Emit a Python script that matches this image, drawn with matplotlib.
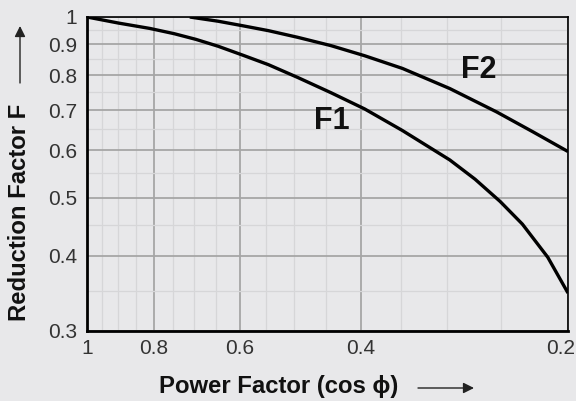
import matplotlib
matplotlib.use("Agg")
import matplotlib.pyplot as plt
from matplotlib.ticker import FixedLocator, NullFormatter
from matplotlib.patches import FancyArrowPatch
from matplotlib.transforms import ScaledTranslation

plt.rcParams['font.family'] = ['Liberation Sans', 'DejaVu Sans']

# Data
f1_cos = [1.0, 0.90, 0.81, 0.747, 0.695, 0.645, 0.594, 0.545, 0.494, 0.442, 0.395, 0.348,
          0.297, 0.273, 0.251, 0.233, 0.214, 0.2]
f1_val = [1.0, 0.977, 0.957, 0.938, 0.918, 0.894, 0.864, 0.833, 0.793, 0.748, 0.703, 0.647,
          0.578, 0.537, 0.493, 0.452, 0.398, 0.347]
f2_cos = [0.709, 0.645, 0.594, 0.545, 0.494, 0.442, 0.395, 0.348, 0.297, 0.254, 0.225, 0.2]
f2_val = [1.0, 0.984, 0.967, 0.949, 0.925, 0.896, 0.862, 0.821, 0.760, 0.695, 0.644, 0.597]

x_major = [1, 0.8, 0.6, 0.4, 0.2]
x_labels = ['1', '0.8', '0.6', '0.4', '0.2']
x_minor = [0.95, 0.9, 0.85, 0.75, 0.7, 0.65, 0.55, 0.5, 0.45, 0.35, 0.3, 0.25]
y_major = [0.3, 0.4, 0.5, 0.6, 0.7, 0.8, 0.9, 1.0]
y_labels = ['0.3', '0.4', '0.5', '0.6', '0.7', '0.8', '0.9', '1']
y_minor = [0.35, 0.45, 0.55, 0.65, 0.75, 0.85, 0.95]

bg = '#e8e8ea'
W, H = 576, 401
fig = plt.figure(figsize=(W / 100, H / 100), dpi=100, facecolor=bg)
ax = fig.add_axes([87 / W, 1 - 331 / H, (568 - 87) / W, (331 - 17) / H])
ax.set_facecolor(bg)
ax.set_xscale('log')
ax.set_yscale('log')
ax.set_xlim(1, 0.2)
ax.set_ylim(0.3, 1)

ax.xaxis.set_major_locator(FixedLocator(x_major))
ax.xaxis.set_minor_locator(FixedLocator(x_minor))
ax.yaxis.set_major_locator(FixedLocator(y_major))
ax.yaxis.set_minor_locator(FixedLocator(y_minor))
ax.set_xticklabels(x_labels)
ax.set_yticklabels(y_labels)
ax.xaxis.set_minor_formatter(NullFormatter())
ax.yaxis.set_minor_formatter(NullFormatter())

ax.grid(which='major', color='#a6a6a6', lw=1.3)
ax.grid(which='minor', color='#d6d6d8', lw=0.9)
ax.set_axisbelow(True)
ax.tick_params(which='both', length=0)
ax.tick_params(axis='y', pad=7, labelsize=15, labelcolor='#333333')
ax.tick_params(axis='x', pad=6, labelsize=15, labelcolor='#333333')

# keep the last x tick label inside the figure
last = ax.get_xticklabels()[-1]
last.set_transform(last.get_transform() + ScaledTranslation(-7 / 100, 0, fig.dpi_scale_trans))

for s in ['left', 'bottom']:
    ax.spines[s].set_linewidth(2.0)
for s in ['top', 'right']:
    ax.spines[s].set_linewidth(1.2)
for s in ax.spines.values():
    s.set_color('black')

ax.plot(f1_cos, f1_val, color='black', lw=2.4, solid_capstyle='butt', solid_joinstyle='round')
ax.plot(f2_cos, f2_val, color='black', lw=2.4, solid_capstyle='butt', solid_joinstyle='round')

ax.text(0.5087, 0.6424, 'F1', fontsize=22, fontweight='bold', ha='center', va='baseline',
        color='#111111', transform=ax.transAxes)
ax.text(0.815, 0.8048, 'F2', fontsize=22, fontweight='bold', ha='center', va='baseline',
        color='#111111', transform=ax.transAxes)

fig.text(279 / W, 1 - 387 / H, 'Power Factor (cos \u03d5)', fontsize=17.2, fontweight='bold',
         ha='center', va='center', color='#111111')
fig.text(20 / W, 1 - 212.5 / H, 'Reduction Factor F', fontsize=17.2, fontweight='bold',
         ha='center', va='center', rotation=90, color='#111111')

arrow_style = dict(arrowstyle='-|>', lw=1.0, color='#222222', mutation_scale=16, shrinkA=0, shrinkB=0)
fig.add_artist(FancyArrowPatch((418 / W, 1 - 388 / H), (474 / W, 1 - 388 / H),
                               transform=fig.transFigure, **arrow_style))
fig.add_artist(FancyArrowPatch((20 / W, 1 - 83 / H), (20 / W, 1 - 26 / H),
                               transform=fig.transFigure, **arrow_style))

fig.savefig('out.png', dpi=100, facecolor=bg)
